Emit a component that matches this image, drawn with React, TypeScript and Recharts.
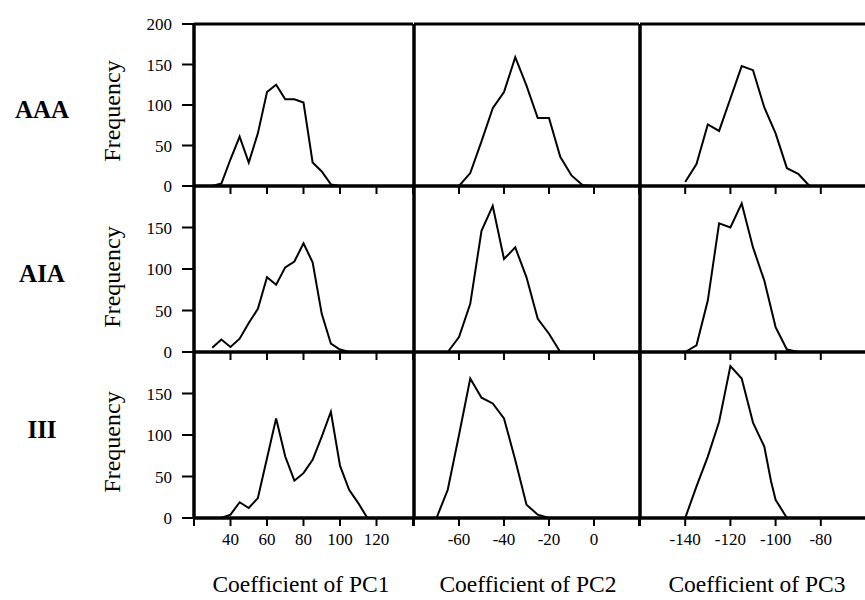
import React from "react";
import { LineChart, Line, XAxis, YAxis, ReferenceLine } from "recharts";

const SERIF = "'Liberation Serif', 'Times New Roman', serif";

// Frequency of each coefficient bin, per model (rows) and component (columns)
const aaaPc1X = [30, 35, 40, 45, 50, 55, 60, 65, 70, 75, 80, 85, 90, 95, 100];
const aaaPc1Y = [0, 3, 33, 61, 29, 65, 116, 125, 107, 107, 103, 29, 18, 2, 0];
const aaaPc2X = [-60, -55, -50, -45, -40, -35, -30, -25, -20, -15, -10, -5, 0];
const aaaPc2Y = [0, 16, 55, 96, 116, 159, 124, 84, 84, 36, 13, 1, 0];
const aaaPc3X = [-140, -135, -130, -125, -120, -115, -110, -105, -100, -95, -90, -85];
const aaaPc3Y = [5, 27, 76, 68, 108, 148, 143, 97, 65, 22, 15, 0];

const aiaPc1X = [30, 35, 40, 45, 50, 55, 60, 65, 70, 75, 80, 85, 90, 95, 100, 105];
const aiaPc1Y = [5, 15, 6, 16, 35, 52, 90, 81, 102, 109, 131, 108, 46, 10, 3, 0];
const aiaPc2X = [-65, -60, -55, -50, -45, -40, -35, -30, -25, -20, -15];
const aiaPc2Y = [0, 18, 58, 146, 176, 112, 126, 90, 40, 22, 0];
const aiaPc3X = [-140, -135, -130, -125, -120, -115, -110, -105, -100, -95, -90];
const aiaPc3Y = [0, 8, 62, 155, 150, 179, 126, 86, 30, 3, 0];

const iiiPc1X = [35, 40, 45, 50, 55, 60, 65, 70, 75, 80, 85, 90, 95, 100, 105, 110, 115];
const iiiPc1Y = [0, 4, 19, 12, 24, 72, 120, 74, 45, 54, 70, 98, 128, 63, 34, 18, 0];
const iiiPc2X = [-70, -65, -60, -55, -50, -45, -40, -35, -30, -25, -20];
const iiiPc2Y = [0, 34, 100, 168, 145, 138, 120, 70, 16, 4, 0];
const iiiPc3X = [-140, -135, -130, -125, -120, -115, -110, -105, -102, -100, -95];
const iiiPc3Y = [0, 38, 74, 116, 183, 168, 115, 86, 44, 22, 0];

const rowNames = ["AAA", "AIA", "III"];
const pcTitles = ["Coefficient of PC1", "Coefficient of PC2", "Coefficient of PC3"];
const pcDomains: [number, number][] = [
  [20, 140],
  [-80, 20],
  [-160, -60],
];
const pcTicks = [
  [20, 40, 60, 80, 100, 120, 140],
  [-80, -60, -40, -20, 0, 20],
  [-160, -140, -120, -100, -80, -60],
];
const freqTicksTop = [0, 50, 100, 150, 200];
const freqTicks = [0, 50, 100, 150];

const series = [
  [
    [aaaPc1X, aaaPc1Y],
    [aaaPc2X, aaaPc2Y],
    [aaaPc3X, aaaPc3Y],
  ],
  [
    [aiaPc1X, aiaPc1Y],
    [aiaPc2X, aiaPc2Y],
    [aiaPc3X, aiaPc3Y],
  ],
  [
    [iiiPc1X, iiiPc1Y],
    [iiiPc2X, iiiPc2Y],
    [iiiPc3X, iiiPc3Y],
  ],
];

// plot-area edges in page pixels
const colX = [
  [194, 413],
  [414, 639],
  [640, 866],
];
const rowY = [
  [24, 186],
  [186, 352],
  [352, 518],
];

const rowLabelY = [118, 282, 438];
const freqLabelY = [111, 277, 442];
const titleX = [301, 528, 757];

const axisStroke = { stroke: "#000", strokeWidth: 3.5 };
const tickStroke = { stroke: "#000", strokeWidth: 2 };
const tickFont = { fontFamily: SERIF, fontSize: 17 };

function XTick(props: any) {
  const { x, y, payload, edges, show } = props;
  if (!show || edges.includes(payload.value)) return <g />;
  return (
    <text x={x} y={y} dy={17} textAnchor="middle" style={tickFont} fill="#000">
      {payload.value}
    </text>
  );
}

function YTick(props: any) {
  const { x, y, payload } = props;
  return (
    <text x={x} y={y} dy={6} textAnchor="end" style={tickFont} fill="#000">
      {payload.value}
    </text>
  );
}

function Panel({ r, c }: { r: number; c: number }) {
  const [x0, x1] = colX[c];
  const [y0, y1] = rowY[r];
  const axisW = c === 0 ? 60 : 0;
  const padL = c === 0 ? 0 : 4;
  const padT = r === 0 ? 16 : 4;
  const padR = 4;
  const bottom = r === 2 ? 40 : 12;
  const left = x0 - axisW - padL;
  const top = y0 - padT;
  const width = axisW + padL + (x1 - x0) + padR;
  const height = padT + (y1 - y0) + bottom;
  const [xs, ys] = series[r][c];
  const data = xs.map((x, i) => ({ x, y: ys[i] }));
  const dom = pcDomains[c];

  return (
    <div style={{ position: "absolute", left, top }}>
      <LineChart
        width={width}
        height={height}
        data={data}
        margin={{ top: padT, right: padR, bottom: 0, left: padL }}
      >
        <XAxis
          type="number"
          dataKey="x"
          domain={dom}
          ticks={pcTicks[c]}
          interval={0}
          height={bottom}
          tickSize={8}
          axisLine={axisStroke}
          tickLine={tickStroke}
          tick={<XTick edges={dom} show={r === 2} />}
        />
        <YAxis
          type="number"
          domain={[0, 200]}
          ticks={r === 0 ? freqTicksTop : freqTicks}
          interval={0}
          hide={c !== 0}
          width={axisW}
          tickSize={12}
          tickMargin={10}
          axisLine={axisStroke}
          tickLine={tickStroke}
          tick={<YTick />}
        />
        {r === 0 && <ReferenceLine y={200} stroke="#000" strokeWidth={3} />}
        {c > 0 && <ReferenceLine x={dom[0]} stroke="#000" strokeWidth={3.5} />}
        <Line
          type="linear"
          dataKey="y"
          stroke="#000"
          strokeWidth={2}
          dot={false}
          isAnimationActive={false}
        />
      </LineChart>
    </div>
  );
}

export default function App() {
  return (
    <div
      style={{
        position: "absolute",
        left: 0,
        top: 0,
        width: 865,
        height: 600,
        overflow: "hidden",
        background: "#fff",
      }}
    >
      <svg width={865} height={600} style={{ position: "absolute", left: 0, top: 0 }}>
        {rowNames.map((name, i) => (
          <text
            key={name}
            x={42}
            y={rowLabelY[i]}
            textAnchor="middle"
            style={{ fontFamily: SERIF, fontSize: 25, fontWeight: "bold" }}
            fill="#000"
          >
            {name}
          </text>
        ))}
        {freqLabelY.map((cy, i) => (
          <text
            key={i}
            transform={`translate(120, ${cy}) rotate(-90)`}
            textAnchor="middle"
            style={{ fontFamily: SERIF, fontSize: 24 }}
            fill="#000"
          >
            Frequency
          </text>
        ))}
        {pcTitles.map((t, i) => (
          <text
            key={t}
            x={titleX[i]}
            y={592}
            textAnchor="middle"
            style={{ fontFamily: SERIF, fontSize: 23.5 }}
            fill="#000"
          >
            {t}
          </text>
        ))}
      </svg>
      {[0, 1, 2].map((r) =>
        [0, 1, 2].map((c) => <Panel key={`${r}-${c}`} r={r} c={c} />)
      )}
    </div>
  );
}
